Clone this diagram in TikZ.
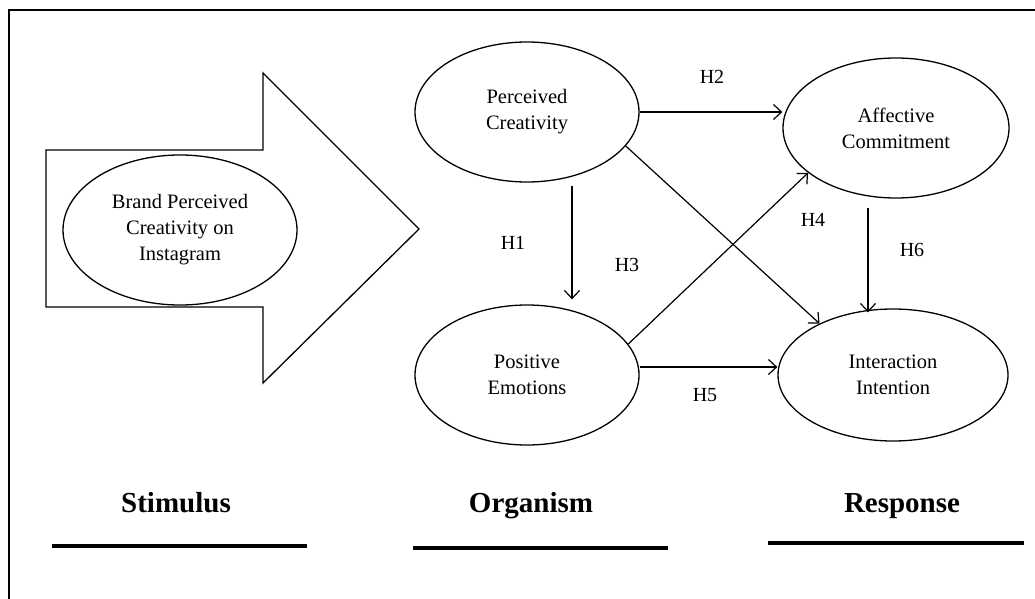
\documentclass[tikz,border=0pt]{standalone}
\usepackage{fontspec}
\setmainfont{Liberation Serif}
\usetikzlibrary{shapes.geometric,arrows.meta}
\begin{document}
\begin{tikzpicture}[x=1pt,y=-1pt,
  ell/.style={ellipse,draw,line width=1.3pt,fill=white,inner sep=0pt,align=center,
    font=\fontsize{20.5}{26}\selectfont},
  arr/.style={line width=1.2pt,-{Straight Barb[length=8pt,width=15pt,line width=1.2pt]}},
  hlab/.style={font=\fontsize{20}{22}\selectfont},
  phase/.style={anchor=base,font=\fontsize{29}{32}\selectfont\bfseries},
  bar/.style={line width=4pt}]
\useasboundingbox (0,0) rectangle (1035,599);
\begin{scope}
\clip (0,0) rectangle (1035,599);
\draw[line width=1.5pt] (9,620) -- (9,10) -- (1050,10);
\end{scope}
% big arrow
\draw[line width=1.3pt,fill=white] (46,150) -- (263,150) -- (263,73) -- (419,229) -- (263,383) -- (263,307) -- (46,307) -- cycle;
\node[ell,minimum width=234pt,minimum height=150pt] (bp) at (180,230) {Brand Perceived\\Creativity on\\Instagram};
% constructs
\node[ell,minimum width=224pt,minimum height=140pt] (pc) at (527,112) {Perceived\\Creativity};
\node[ell,minimum width=224pt,minimum height=140pt] (pe) at (527,375) {Positive\\Emotions};
\node[ell,minimum width=226pt,minimum height=140pt] (ac) at (896,128) {Affective\\Commitment};
\node[ell,minimum width=230pt,minimum height=132pt] (ii) at (893,375) {Interaction\\Intention};
% paths
\draw[arr] (pc.east) -- (pc.east -| ac.west);
\draw[arr] ([xshift=45pt,yshift=-3pt]pc.south) -- ([xshift=45pt,yshift=5pt]pe.north);
\draw[arr] (pc.-19.7) -- (ii.145.8);
\draw[arr] (pe.17.4) -- (ac.207);
\draw[arr] ([yshift=8pt]pe.east) -- ([yshift=8pt]pe.east -| ii.west);
\draw[arr] ([xshift=-28pt,yshift=-9pt]ac.south) -- ([xshift=-25pt,yshift=-4pt]ii.north);
% labels
\node[hlab] (h2) at (712,77) {H2};
\node[hlab] (h1) at (513,243) {H1};
\node[hlab] (h3) at (627,265) {H3};
\node[hlab] (h4) at (813,220) {H4};
\node[hlab] (h5) at (705,395) {H5};
\node[hlab] (h6) at (912,250) {H6};
% phases
\node[phase] (st) at (176,512) {Stimulus};
\node[phase] (or) at (531,512) {Organism};
\node[phase] (re) at (902,512) {Response};
\coordinate (s1) at (52,546); \coordinate (s2) at (307,546);
\coordinate (o1) at (413,548); \coordinate (o2) at (668,548);
\coordinate (r1) at (768,543); \coordinate (r2) at (1024,543);
\draw[bar] (s1) -- (s2);
\draw[bar] (o1) -- (o2);
\draw[bar] (r1) -- (r2);
\end{tikzpicture}
\end{document}
